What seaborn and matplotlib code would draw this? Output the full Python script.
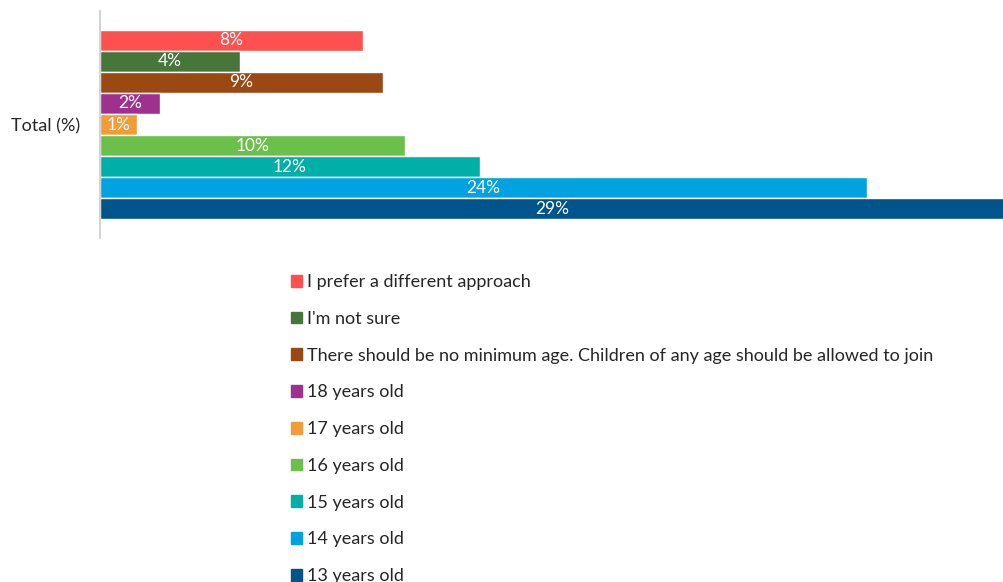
import matplotlib
matplotlib.use("Agg")
import matplotlib.pyplot as plt
import seaborn as sns
import pandas as pd

answers = [
    "I prefer a different approach",
    "I'm not sure",
    "There should be no minimum age. Children of any age should be allowed to join",
    "18 years old",
    "17 years old",
    "16 years old",
    "15 years old",
    "14 years old",
    "13 years old",
]
values = [8.35, 4.44, 8.98, 1.90, 1.17, 9.70, 12.06, 24.38, 29.03]
colors = ["#FF5050", "#47763A", "#9C4813", "#A0308F", "#F39B36",
          "#6BC04B", "#00B0A8", "#00A2E0", "#00548C"]
group = "Total (%)"

df = pd.DataFrame({"group": group, "answer": answers, "value": values})

sns.set_style("white")
plt.rcParams["font.family"] = ["Lato", "DejaVu Sans"]

fig = plt.figure(figsize=(10.04, 5.82), dpi=100)
ax = fig.add_axes([100 / 1004, 1 - 238 / 582, 904 / 1004, 227 / 582])

sns.barplot(data=df, x="value", y="group", hue="answer", hue_order=answers,
            palette=colors, orient="h", width=0.837, saturation=1,
            legend=False, ax=ax, errorbar=None)

for cont, v in zip(ax.containers, values):
    ax.bar_label(cont, labels=[f"{v:.0f}%"], label_type="center",
                 color="white", fontsize=12.5)

ax.set_xlim(0, 904 / 31.47)
ax.set_xlabel("")
ax.set_ylabel("")
ax.set_xticks([])
ax.tick_params(axis="y", length=0, pad=14, labelsize=13, labelcolor="#262626")
for side in ["top", "right", "bottom"]:
    ax.spines[side].set_visible(False)
ax.spines["left"].set_color("#D0D0D0")
ax.spines["left"].set_linewidth(1.3)

handles = [plt.Rectangle((0, 0), 1, 1, color=c) for c in colors]
fig.legend(handles, answers, loc="upper left", bbox_to_anchor=(282 / 1004, 1 - 265 / 582),
           frameon=False, fontsize=13, handlelength=0.62, handleheight=0.62,
           handletextpad=0.28, labelspacing=1.15, borderpad=0)
for t in fig.legends[0].get_texts():
    t.set_color("#262626")

fig.savefig("out.png", dpi=100)
